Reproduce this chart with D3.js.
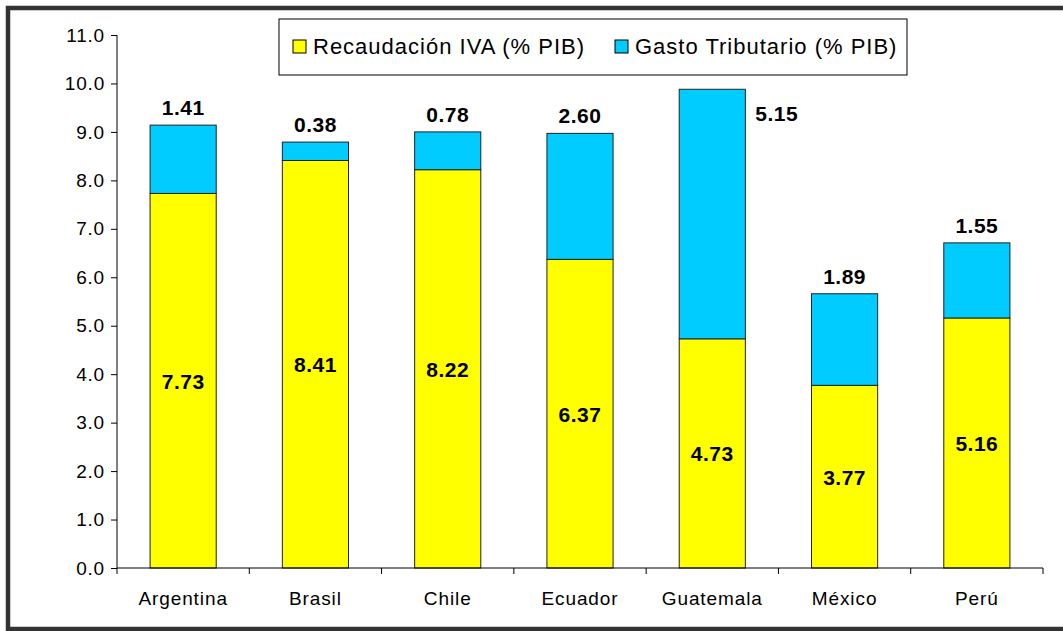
<!DOCTYPE html>
<html>
<head>
<meta charset="utf-8">
<script src="https://cdn.jsdelivr.net/npm/d3@7"></script>
<style>
  body { margin: 0; background: #fff; }
  text { font-family: "Liberation Sans", Arial, sans-serif; }
</style>
</head>
<body>
<svg id="chart" width="1063" height="631"></svg>
<script>
var countries = ["Argentina", "Brasil", "Chile", "Ecuador", "Guatemala", "México", "Perú"];
var recaudacion = [7.73, 8.41, 8.22, 6.37, 4.73, 3.77, 5.16];
var gasto = [1.41, 0.38, 0.78, 2.60, 5.15, 1.89, 1.55];
var seriesNames = ["Recaudación IVA (% PIB)", "Gasto Tributario (% PIB)"];
var yTicks = [0, 1, 2, 3, 4, 5, 6, 7, 8, 9, 10, 11];

var svg = d3.select("#chart");

// outer frame
svg.append("rect")
    .attr("x", 8).attr("y", 8)
    .attr("width", 1070).attr("height", 621)
    .attr("fill", "none")
    .attr("stroke", "#333")
    .attr("stroke-width", 4.5);

var plotLeft = 117, plotRight = 1043, plotTop = 35, plotBottom = 568;

var x = d3.scaleBand().domain(countries).range([plotLeft, plotRight])
    .paddingInner(0.5).paddingOuter(0.25);
var xAxisBand = d3.scaleBand().domain(countries).range([plotLeft, plotRight]);
var y = d3.scaleLinear().domain([0, 11]).range([plotBottom, plotTop]);

var rows = countries.map(function(c, i) {
    return { country: c, rec: recaudacion[i], gasto: gasto[i] };
});

// bars
var g = svg.append("g");
g.selectAll("rect.rec").data(rows).enter().append("rect")
    .attr("class", "rec")
    .attr("x", function(d) { return x(d.country); })
    .attr("width", x.bandwidth())
    .attr("y", function(d) { return y(d.rec); })
    .attr("height", function(d) { return y(0) - y(d.rec); })
    .attr("fill", "#ffff00")
    .attr("stroke", "#222").attr("stroke-width", 1);

g.selectAll("rect.gasto").data(rows).enter().append("rect")
    .attr("class", "gasto")
    .attr("x", function(d) { return x(d.country); })
    .attr("width", x.bandwidth())
    .attr("y", function(d) { return y(d.rec + d.gasto); })
    .attr("height", function(d) { return y(d.rec) - y(d.rec + d.gasto); })
    .attr("fill", "#00ccff")
    .attr("stroke", "#222").attr("stroke-width", 1);

// y axis
var yAxis = svg.append("g")
    .attr("transform", "translate(" + plotLeft + ",0)")
    .call(d3.axisLeft(y).tickValues(yTicks).tickSize(6).tickPadding(6)
        .tickFormat(d3.format(".1f")));
yAxis.selectAll("text").attr("font-size", 19).attr("fill", "#000")
    .attr("letter-spacing", 0.8)
    .attr("font-family", "Liberation Sans, Arial, sans-serif");
yAxis.selectAll("line, path").attr("stroke", "#000");
yAxis.select("path").attr("d", "M0," + plotBottom + "V" + plotTop);

// x axis
var xAxis = svg.append("g").attr("transform", "translate(0," + plotBottom + ")");
xAxis.append("line").attr("x1", plotLeft).attr("x2", plotRight).attr("stroke", "#000");
var boundaries = countries.map(function(c) { return xAxisBand(c); }).concat([plotRight]);
xAxis.selectAll("line.tick").data(boundaries).enter().append("line")
    .attr("class", "tick")
    .attr("x1", function(d) { return d; }).attr("x2", function(d) { return d; })
    .attr("y1", 0).attr("y2", 6).attr("stroke", "#000");
xAxis.selectAll("text").data(countries).enter().append("text")
    .attr("x", function(d) { return x(d) + x.bandwidth() / 2; })
    .attr("y", 37)
    .attr("text-anchor", "middle")
    .attr("font-size", 19)
    .attr("letter-spacing", 0.9)
    .text(function(d) { return d; });

// legend
var legend = { x: 279, y: 19, w: 628, h: 56 };
svg.append("rect")
    .attr("x", legend.x).attr("y", legend.y)
    .attr("width", legend.w).attr("height", legend.h)
    .attr("fill", "#fff").attr("stroke", "#000").attr("stroke-width", 1);
var legendItems = [
    { name: seriesNames[0], color: "#ffff00", x: 293 },
    { name: seriesNames[1], color: "#00ccff", x: 615 }
];
var li = svg.selectAll("g.legend").data(legendItems).enter().append("g")
    .attr("transform", function(d) { return "translate(" + d.x + ",40)"; });
li.append("rect").attr("width", 13).attr("height", 13)
    .attr("fill", function(d) { return d.color; })
    .attr("stroke", "#000").attr("stroke-width", 1);
li.append("text").attr("x", 20).attr("y", 14)
    .attr("font-size", 22)
    .attr("letter-spacing", 1)
    .text(function(d) { return d.name; });

// value labels
var fmt = d3.format(".2f");
svg.selectAll("text.recLabel").data(rows).enter().append("text")
    .attr("x", function(d) { return x(d.country) + x.bandwidth() / 2; })
    .attr("y", function(d) { return y(d.rec / 2) + 8; })
    .attr("text-anchor", "middle")
    .attr("font-size", 21).attr("font-weight", "bold")
    .attr("letter-spacing", 0.5)
    .text(function(d) { return fmt(d.rec); });

svg.selectAll("text.gastoLabel").data(rows).enter().append("text")
    .each(function(d) {
        var cx = x(d.country) + x.bandwidth() / 2;
        var ty = y(d.rec + d.gasto);
        var t = d3.select(this);
        // label would hit the legend box: put it beside the bar
        if (ty - 30 < legend.y + legend.h && cx > legend.x && cx < legend.x + legend.w) {
            t.attr("x", x(d.country) + x.bandwidth() + 10)
             .attr("y", ty + 32)
             .attr("text-anchor", "start");
        } else {
            t.attr("x", cx).attr("y", ty - 10).attr("text-anchor", "middle");
        }
    })
    .attr("font-size", 21).attr("font-weight", "bold")
    .attr("letter-spacing", 0.5)
    .text(function(d) { return fmt(d.gasto); });
</script>
</body>
</html>
